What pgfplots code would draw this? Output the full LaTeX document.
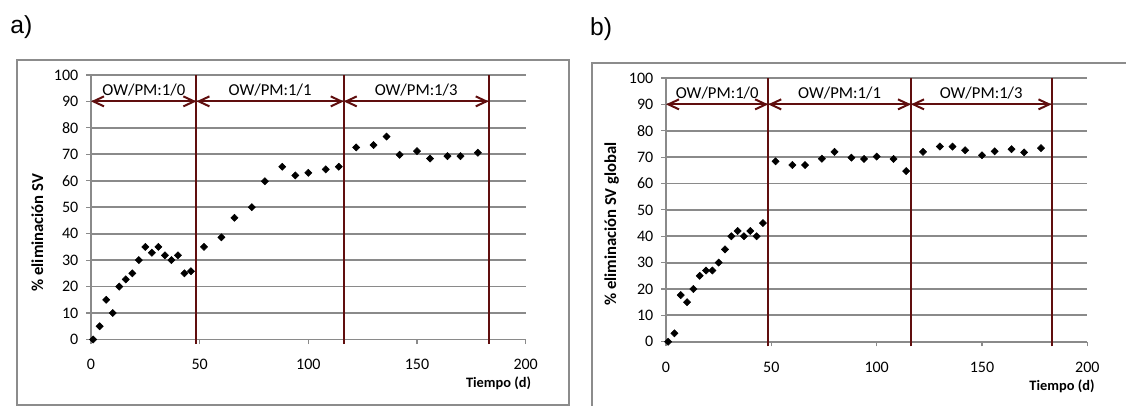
\documentclass[border=0pt]{standalone}
\usepackage{pgfplots}
\pgfplotsset{compat=1.18}
\usepackage{fontspec}
\setmainfont{Carlito}
\newfontfamily\arialfont{Liberation Sans}
\usetikzlibrary{arrows.meta}

\definecolor{gridgray}{RGB}{138,138,138}
\definecolor{framegray}{RGB}{140,140,140}
\definecolor{maroon}{RGB}{96,14,14}

\pgfplotstableread{
x y
1 0
4 5
7 15
10 10
13 20
16 22.7
19 25
22 30
25 35
28 32.8
31 35
34 31.8
37 30
40 31.8
43 25
46 25.8
52 35
60 38.6
66 46
74 50
80 59.8
88 65.3
94 62
100 63
108 64.3
114 65.3
122 72.6
130 73.5
136 76.7
142 69.8
150 71.2
156 68.4
164 69.3
170 69.3
178 70.6
}\dataA

\pgfplotstableread{
x y
1 0
4 3.2
7 17.7
10 15
13 20
16 25
19 27
22 27
25 30
28 35
31 40
34 42
37 40
40 42
43 40
46 45
52 68.4
60 67
66 67
74 69.4
80 72
88 69.8
94 69.3
100 70.2
108 69.3
114 64.7
122 72
130 74
136 74
142 72.6
150 70.7
156 72.2
164 73
170 71.8
178 73.4
}\dataB

\pgfplotsset{
  panel/.style={
    scale only axis, clip=false,
    xmin=0, xmax=200, ymin=0, ymax=100,
    xtick={0,50,...,200}, ytick={0,10,...,100},
    axis x line*=bottom, axis y line*=left,
    axis line style={gridgray, line width=1.35pt},
    ymajorgrids, grid style={gridgray, line width=1.35pt},
    tick style={gridgray, line width=0.9pt},
    tick align=outside, major tick length=3.5pt,
    /pgf/number format/assume math mode=true,
    ticklabel style={font=\fontsize{12}{14}\selectfont},
    yticklabel style={xshift=-2.5pt},
    xticklabel style={yshift=-8pt},
  },
  diamonds/.style={only marks, mark=square*, mark size=1.9pt,
    mark options={rotate=45, fill=black, draw=black}},
}
\tikzset{
  sepline/.style={draw=maroon, line width=1.5pt},
  arr/.style={draw=maroon, line width=1.5pt,
    {Straight Barb[length=8pt,width=7.5pt]}-{Straight Barb[length=8pt,width=7.5pt]}},
  lab/.style={anchor=base, font=\fontsize{12.5}{14}\selectfont},
}

\begin{document}
\begin{tikzpicture}
\path[use as bounding box] (0,0) rectangle (844.5pt,304.5pt);

% frames
\draw[framegray, line width=1.3pt] (12.75pt,0.75pt) rectangle (426.75pt,259.5pt);
\draw[framegray, line width=1.3pt] (444pt,-4pt) -- (444pt,257.25pt) -- (848pt,257.25pt);

% panel a
\begin{axis}[panel, at={(68.25pt,49.9pt)}, anchor=south west, width=326pt, height=198.4pt]
\addplot[diamonds] table[x=x,y=y] {\dataA};
\draw[sepline] (axis cs:48.5,-1.8) -- (axis cs:48.5,100);
\draw[sepline] (axis cs:116.3,-1.8) -- (axis cs:116.3,100);
\draw[sepline] (axis cs:183,-1.8) -- (axis cs:183,100);
\draw[arr] (axis cs:0,90) -- (axis cs:48.5,90);
\draw[arr] (axis cs:48.5,90) -- (axis cs:116.3,90);
\draw[arr] (axis cs:116.3,90) -- (axis cs:183,90);
\node[lab] at (axis cs:24.3,92.2) {OW/PM:1/0};
\node[lab] at (axis cs:82.4,92.2) {OW/PM:1/1};
\node[lab] at (axis cs:149.6,92.2) {OW/PM:1/3};
\end{axis}

% panel b
\begin{axis}[panel, at={(499.5pt,48.2pt)}, anchor=south west, width=316pt, height=197.8pt]
\addplot[diamonds] table[x=x,y=y] {\dataB};
\draw[sepline] (axis cs:48.5,-1.8) -- (axis cs:48.5,100);
\draw[sepline] (axis cs:116.3,-1.8) -- (axis cs:116.3,100);
\draw[sepline] (axis cs:183,-1.8) -- (axis cs:183,100);
\draw[arr] (axis cs:0,90) -- (axis cs:48.5,90);
\draw[arr] (axis cs:48.5,90) -- (axis cs:116.3,90);
\draw[arr] (axis cs:116.3,90) -- (axis cs:183,90);
\node[lab] at (axis cs:24.3,92.2) {OW/PM:1/0};
\node[lab] at (axis cs:82.4,92.2) {OW/PM:1/1};
\node[lab] at (axis cs:149.6,92.2) {OW/PM:1/3};
\end{axis}

% axis titles
\node[rotate=90, font=\fontsize{12.5}{15}\selectfont\bfseries] at (28.1pt,130pt) {\% eliminación SV};
\node[rotate=90, font=\fontsize{12.5}{15}\selectfont\bfseries] at (458.8pt,136.5pt) {\% eliminación SV global};
\node[font=\fontsize{10.8}{13}\selectfont\bfseries] at (373.9pt,17.25pt) {Tiempo (d)};
\node[font=\fontsize{10.8}{13}\selectfont\bfseries] at (796.5pt,15pt) {Tiempo (d)};

% panel letters
\node[font=\arialfont\fontsize{18.5}{21}\selectfont] at (16pt,284.5pt) {a)};
\node[font=\arialfont\fontsize{18.5}{21}\selectfont] at (450.75pt,283pt) {b)};
\end{tikzpicture}
\end{document}
